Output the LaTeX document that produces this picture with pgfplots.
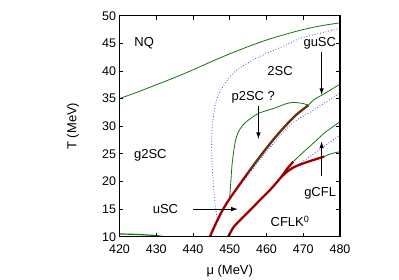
\documentclass[border=0pt]{standalone}
\usepackage{pgfplots}
\pgfplotsset{compat=1.18}
\usepackage{fontspec}
\setmainfont{Liberation Sans}
\usetikzlibrary{arrows.meta}
\definecolor{dgreen}{RGB}{20,115,20}
\definecolor{dblue}{RGB}{70,70,230}
\definecolor{dred}{RGB}{160,0,0}
\begin{document}
\begin{tikzpicture}[font=\fontsize{13}{15}\selectfont]
\useasboundingbox (-119.5pt,-42.3pt) rectangle (279.5pt,236.7pt);
\begin{axis}[at={(0,0)}, anchor=south west, scale only axis,
  width=220.5pt, height=221pt,
  xmin=420, xmax=480, ymin=10, ymax=50,
  xtick={420,430,...,480}, ytick={10,15,...,50},
  tick align=inside, major tick length=4pt,
  axis line style={line width=1.3pt},
  tick style={black, line width=0.8pt},
  tick label style={font=\fontsize{12.5}{14}\selectfont},
  xticklabel style={yshift=-5pt},
  xlabel={μ (MeV)}, ylabel={T (MeV)},
  x label style={at={(axis description cs:0.5,-0.155)}, anchor=center},
  y label style={at={(axis description cs:-0.211,0.5)}, anchor=center},
  /pgf/number format/assume math mode=true,
  axis on top]
% NQ boundary
\addplot[dgreen, line width=0.8pt, smooth] coordinates {
(420,35) (425,36.2) (430,37.5) (435,38.8) (440,40.2) (445,41.7) (450,43.1) (455,44.4) (460,45.6) (465,46.6) (470,47.5) (475,48.2) (480,48.7)};
% bottom-left green
\addplot[dgreen, line width=1.2pt, smooth] coordinates {
(420,10.5) (425,10.4) (430,10.2) (432,10.0)};
% outer dotted blue
\addplot[dblue, dotted, line width=0.8pt, smooth] coordinates {
(480,47.7) (475,46.9) (469.1,45.9) (465,44.6) (460.1,43.2) (455,41.5) (450.9,39.6) (448,37.0) (446.4,34.7) (445.5,31.5) (445.1,28.5) (445.1,25.1) (445.3,22) (445.6,19.0) (446.0,16) (446.6,13.1)};
% second dotted blue
\addplot[dblue, dotted, line width=0.8pt, smooth] coordinates {
(454,20.3) (457,22.9) (461,26.2) (465,29.2) (468,31.0) (471.8,32.5) (476,34.3) (480,36.0)};
% third dotted blue
\addplot[dblue, dotted, line width=0.8pt, smooth] coordinates {
(467.5,22.6) (471.8,24.5) (476,26.5) (480,28.4)};
% red upper
\addplot[dred, line width=2.3pt, smooth] coordinates {
(444.6,10) (446.5,12.8) (448.2,15) (450,16.9) (452,18.8) (455,21.6) (458,24.3) (461.4,27.2) (464.5,29.6) (468,32.0) (471.4,33.8)};
% green overlay on red upper + continuation
\addplot[dgreen, line width=0.8pt, smooth] coordinates {
(455,21.6) (458,24.3) (461.4,27.2) (464.5,29.6) (468,32.0) (471.4,33.8) (472.7,34.7) (475.5,35.8) (480,37.6)};
% green bump (p2SC)
\addplot[dgreen, line width=0.8pt, smooth] coordinates {
(450,17.2) (450.3,20) (450.7,23.5) (451.6,27.5) (452.8,29.5) (454.5,30.8) (457.8,32.3) (462.3,33.3) (465.5,34.1) (467.5,34.3) (470,34.1) (471.4,33.8)};
% red lower main + upper branch
\addplot[dred, line width=2.3pt, smooth] coordinates {
(449.6,10) (451,11.7) (452.8,13.0) (456.4,15.4) (461,18.5) (464,20.8) (465.5,22.2) (467.3,23.6)};
% red lower branch
\addplot[dred, line width=2.3pt, smooth] coordinates {
(464,20.8) (465.5,21.7) (467.5,22.6) (471,23.5) (475.7,24.5)};
% green from upper branch
\addplot[dgreen, line width=0.8pt, smooth] coordinates {
(467.3,23.6) (470,25.3) (472.7,26.9) (476,28.9) (480,30.8)};
% green from lower branch
\addplot[dgreen, line width=0.8pt, smooth] coordinates {
(475.7,24.5) (477.5,25.0) (480,25.4)};
% labels
\node[anchor=west] at (axis cs:423.1,45) {NQ};
\node[anchor=west] at (axis cs:423.0,24.8) {g2SC};
\node[anchor=east] at (axis cs:436.9,15) {uSC};
\node at (axis cs:463.7,40) {2SC};
\node at (axis cs:456.4,35.2) {p2SC ?};
\node at (axis cs:474.5,45) {guSC};
\node at (axis cs:474.6,17.9) {gCFL};
\node at (axis cs:466.4,12.8) {CFLK\textsuperscript{0}};
\draw[line width=1.1pt, -{Latex[length=7pt,width=4.5pt]}] (axis cs:440.1,15) -- (axis cs:452.3,15);
\draw[line width=1.1pt, -{Latex[length=7pt,width=4.5pt]}] (axis cs:457.8,33.6) -- (axis cs:457.8,27.6);
\draw[line width=1.1pt, -{Latex[length=7pt,width=4.5pt]}] (axis cs:475,43.5) -- (axis cs:475,35.6);
\draw[line width=1.1pt, -{Latex[length=7pt,width=4.5pt]}] (axis cs:475,20.9) -- (axis cs:475,27.3);
\end{axis}
\end{tikzpicture}
\end{document}
